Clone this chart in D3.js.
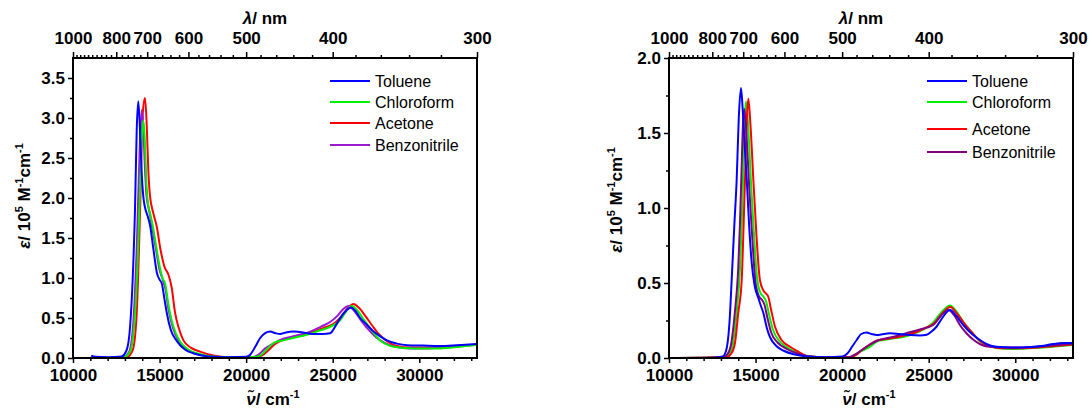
<!DOCTYPE html>
<html>
<head>
<meta charset="utf-8">
<script src="https://cdn.jsdelivr.net/npm/d3@7"></script>
<style>
body { margin: 0; background: #fff; }
svg text { font-family: "Liberation Sans", Arial, sans-serif; }
.tick text { font-weight: bold; font-size: 17px; fill: #000; }
.tick line { stroke: #000; stroke-width: 1.5; }
</style>
</head>
<body>
<svg width="1092" height="414"></svg>
<script>
// ---- data (wavenumber cm-1, epsilon / 1e5 M-1 cm-1) ----
var solvents = ["Toluene", "Chloroform", "Acetone", "Benzonitrile"];

var leftToluene = [[11050,0.03],[11300,0.015],[12000,0.01],[12800,0.02],[13100,0.1],[13300,0.4],[13450,1.0],[13580,1.85],[13680,2.85],[13770,3.21],[13870,2.85],[13960,2.35],[14060,2.02],[14150,1.89],[14300,1.78],[14450,1.66],[14650,1.35],[14850,1.06],[15000,0.98],[15130,0.93],[15280,0.74],[15420,0.56],[15650,0.35],[16000,0.21],[16500,0.1],[16940,0.06],[17800,0.02],[19000,0.01],[20000,0.015],[20230,0.04],[20550,0.15],[20810,0.25],[21100,0.31],[21390,0.33],[21700,0.31],[21960,0.30],[22300,0.32],[22730,0.33],[23300,0.32],[23800,0.30],[24400,0.30],[24850,0.31],[25240,0.43],[25600,0.55],[26070,0.63],[26300,0.59],[26590,0.50],[27000,0.41],[27360,0.33],[27750,0.27],[28130,0.22],[28700,0.18],[29290,0.16],[30200,0.155],[31200,0.15],[32200,0.16],[33340,0.175]];
var leftChloroform = [[12000,0.0],[12900,0.01],[13300,0.08],[13550,0.45],[13750,1.3],[13900,2.3],[14000,2.85],[14063,2.97],[14150,2.7],[14250,2.15],[14350,1.9],[14450,1.81],[14600,1.66],[14800,1.4],[15000,1.15],[15180,0.99],[15320,0.93],[15500,0.68],[15700,0.47],[15900,0.33],[16200,0.2],[16700,0.1],[17300,0.05],[18000,0.02],[19000,0.01],[20300,0.01],[20810,0.03],[21200,0.11],[21600,0.19],[22150,0.22],[22700,0.25],[23500,0.29],[24200,0.34],[24850,0.39],[25430,0.47],[25800,0.59],[26110,0.65],[26400,0.6],[26800,0.48],[27200,0.36],[27740,0.22],[28100,0.17],[28510,0.14],[29670,0.12],[30500,0.12],[31210,0.12],[32300,0.14],[33340,0.165]];
var leftAcetone = [[12000,0.0],[13100,0.01],[13450,0.1],[13680,0.56],[13870,1.81],[14030,3.06],[14160,3.25],[14260,2.9],[14350,2.35],[14450,2.02],[14640,1.81],[14840,1.64],[15050,1.36],[15300,1.13],[15500,1.05],[15700,0.88],[15900,0.56],[16100,0.38],[16380,0.22],[16800,0.13],[17340,0.08],[18110,0.03],[19000,0.01],[20500,0.01],[20900,0.03],[21300,0.1],[21700,0.18],[22200,0.23],[22700,0.26],[23300,0.29],[23900,0.33],[24500,0.38],[25000,0.42],[25500,0.52],[25900,0.63],[26200,0.675],[26500,0.63],[26900,0.52],[27300,0.40],[27700,0.29],[28200,0.2],[28700,0.15],[29500,0.13],[30500,0.13],[31500,0.14],[32500,0.16],[33340,0.17]];
var leftBenzonitrile = [[12000,0.0],[12900,0.01],[13250,0.08],[13500,0.5],[13700,1.5],[13850,2.6],[13970,3.1],[14060,2.9],[14150,2.4],[14250,2.02],[14400,1.84],[14600,1.6],[14800,1.35],[15000,1.1],[15200,0.97],[15350,0.85],[15500,0.63],[15700,0.43],[15900,0.3],[16200,0.18],[16700,0.09],[17300,0.04],[18000,0.02],[19000,0.01],[20300,0.01],[20700,0.04],[21100,0.12],[21580,0.18],[22000,0.23],[22500,0.26],[23100,0.29],[23700,0.33],[24300,0.39],[24850,0.45],[25240,0.52],[25600,0.61],[25910,0.65],[26200,0.6],[26600,0.48],[27000,0.37],[27500,0.26],[28000,0.19],[28600,0.14],[29500,0.12],[30500,0.12],[31500,0.13],[32500,0.15],[33340,0.165]];

var rightToluene = [[10000,0.0],[12500,0.0],[13100,0.01],[13300,0.05],[13500,0.25],[13620,0.52],[13780,0.9],[13910,1.19],[14030,1.6],[14157,1.80],[14260,1.65],[14380,1.4],[14490,1.19],[14630,0.88],[14780,0.63],[14950,0.48],[15160,0.40],[15300,0.35],[15450,0.30],[15650,0.2],[15830,0.14],[16200,0.08],[16600,0.05],[17200,0.025],[18000,0.01],[19000,0.005],[20000,0.01],[20300,0.03],[20600,0.08],[20840,0.12],[21100,0.16],[21410,0.17],[21700,0.16],[21990,0.153],[22400,0.16],[22760,0.165],[23300,0.16],[23920,0.153],[24500,0.15],[24880,0.155],[25200,0.18],[25460,0.21],[25800,0.27],[26230,0.32],[26600,0.28],[27000,0.22],[27500,0.16],[27960,0.12],[28400,0.09],[28920,0.075],[29800,0.07],[30650,0.072],[31500,0.08],[32190,0.093],[32700,0.1],[33340,0.1]];
var rightChloroform = [[10000,0.0],[13200,0.005],[13500,0.03],[13700,0.1],[13900,0.3],[14100,0.6],[14200,0.9],[14290,1.25],[14370,1.58],[14446,1.71],[14540,1.6],[14640,1.4],[14740,1.16],[14920,0.8],[15100,0.52],[15300,0.43],[15450,0.41],[15600,0.38],[15800,0.28],[16000,0.19],[16400,0.11],[16900,0.065],[17500,0.03],[18200,0.01],[19000,0.005],[20400,0.005],[20650,0.015],[21000,0.04],[21610,0.075],[22000,0.11],[22380,0.12],[22900,0.13],[23530,0.14],[24100,0.16],[24700,0.19],[25200,0.23],[25700,0.3],[26230,0.35],[26600,0.31],[27000,0.24],[27500,0.17],[27960,0.11],[28500,0.08],[29000,0.065],[29880,0.06],[30800,0.065],[31800,0.072],[32600,0.08],[33340,0.087]];
var rightAcetone = [[10000,0.0],[13300,0.005],[13600,0.03],[13810,0.1],[14000,0.3],[14200,0.52],[14300,0.85],[14390,1.19],[14480,1.55],[14580,1.73],[14680,1.6],[14780,1.4],[14870,1.19],[15050,0.82],[15250,0.52],[15450,0.45],[15600,0.43],[15730,0.41],[15900,0.32],[16120,0.21],[16500,0.12],[16990,0.075],[17500,0.04],[17950,0.013],[19000,0.005],[20500,0.005],[20800,0.02],[21100,0.05],[21600,0.09],[22000,0.115],[22400,0.125],[23000,0.135],[23600,0.15],[24200,0.17],[24800,0.2],[25300,0.23],[25800,0.3],[26250,0.34],[26600,0.3],[27000,0.24],[27500,0.17],[28000,0.11],[28500,0.08],[29300,0.065],[30300,0.065],[31300,0.07],[32300,0.08],[33340,0.09]];
var rightBenzonitrile = [[10000,0.0],[13100,0.005],[13400,0.03],[13600,0.1],[13800,0.3],[14000,0.6],[14100,0.9],[14190,1.25],[14270,1.55],[14350,1.66],[14440,1.55],[14540,1.35],[14640,1.12],[14820,0.78],[15000,0.5],[15200,0.41],[15350,0.39],[15500,0.36],[15700,0.26],[15900,0.17],[16300,0.1],[16800,0.06],[17400,0.03],[18100,0.01],[19000,0.005],[20400,0.005],[20700,0.02],[21100,0.05],[21600,0.09],[22000,0.115],[22500,0.13],[23100,0.145],[23700,0.165],[24490,0.19],[25260,0.22],[25700,0.28],[26130,0.32],[26500,0.28],[26800,0.22],[27180,0.165],[27600,0.12],[28000,0.09],[28500,0.075],[29300,0.07],[30300,0.07],[31300,0.075],[32300,0.085],[33340,0.095]];

// ---- tick labels ----
var wnMajor = [10000, 15000, 20000, 25000, 30000];
var wnMinor = [11000,12000,13000,14000,16000,17000,18000,19000,21000,22000,23000,24000,26000,27000,28000,29000,31000,32000,33000];
var nmMajor = [1000, 800, 700, 600, 500, 400, 300];
var nmMinor = [980,960,940,920,900,880,860,840,820,780,760,740,720,680,660,640,620,580,560,540,520,480,460,440,420,380,360,340,320];
var leftYMajor = [0, 0.5, 1.0, 1.5, 2.0, 2.5, 3.0, 3.5];
var leftYMinor = [0.25, 0.75, 1.25, 1.75, 2.25, 2.75, 3.25];
var rightYMajor = [0, 0.5, 1.0, 1.5, 2.0];
var rightYMinor = [0.25, 0.75, 1.25, 1.75];

var svg = d3.select("svg");
var top0 = 58, bottom0 = 358, plotW = 404;

// text with italic / superscript parts
function rich(t, parts) {
  var shift = 0;
  parts.forEach(function(p) {
    var s = t.append("tspan").text(p[0]);
    var dy = 0;
    if (p[1] === "sup") { dy = -7 - shift; shift = -7; s.style("font-size", "11px"); }
    else { dy = -shift; shift = 0; }
    if (dy) s.attr("dy", dy);
    if (p[1] === "i") s.style("font-style", "italic");
  });
}

function drawPanel(p) {
  var x = d3.scaleLinear().domain([10000, 1e7 / 300]).range([p.left, p.left + plotW]);
  var y = d3.scaleLinear().domain([0, p.yMax]).range([bottom0, top0]);
  var g = svg.append("g");

  g.append("clipPath").attr("id", p.id)
    .append("rect").attr("x", p.left).attr("y", top0).attr("width", plotW).attr("height", bottom0 - top0);

  var line = d3.line()
      .x(function(d) { return x(d[0]); })
      .y(function(d) { return y(d[1]); })
      .curve(d3.curveMonotoneX);

  g.append("g").attr("clip-path", "url(#" + p.id + ")")
    .selectAll("path")
    .data(p.order)
    .enter().append("path")
      .attr("d", function(i) { return line(p.series[i]); })
      .attr("fill", "none")
      .attr("stroke", function(i) { return p.colors[i]; })
      .attr("stroke-width", 2)
      .attr("stroke-linejoin", "round");

  // axes
  g.append("g").attr("transform", "translate(0," + bottom0 + ")")
    .call(d3.axisBottom(x).tickValues(wnMajor).tickSize(5).tickPadding(6).tickFormat(d3.format("d")));
  g.append("g").attr("transform", "translate(0," + bottom0 + ")")
    .call(d3.axisBottom(x).tickValues(wnMinor).tickSize(3).tickFormat(""));

  g.append("g").attr("transform", "translate(" + p.left + ",0)")
    .call(d3.axisLeft(y).tickValues(p.yMajor).tickSize(5).tickPadding(3).tickFormat(d3.format(".1f")));
  g.append("g").attr("transform", "translate(" + p.left + ",0)")
    .call(d3.axisLeft(y).tickValues(p.yMinor).tickSize(3).tickFormat(""));

  g.append("g").attr("transform", "translate(0," + top0 + ")")
    .call(d3.axisTop(x).tickValues(nmMajor.map(function(n) { return 1e7 / n; }))
      .tickSize(6).tickPadding(8)
      .tickFormat(function(v) { return Math.round(1e7 / v); }));
  g.append("g").attr("transform", "translate(0," + top0 + ")")
    .call(d3.axisTop(x).tickValues(nmMinor.map(function(n) { return 1e7 / n; })).tickSize(3).tickFormat(""));

  g.selectAll(".domain").remove();

  g.append("rect")
    .attr("x", p.left).attr("y", top0)
    .attr("width", plotW).attr("height", bottom0 - top0)
    .attr("fill", "none").attr("stroke", "#000").attr("stroke-width", 2);

  // titles
  var tt = g.append("text").attr("x", p.left + 192).attr("y", 24)
    .attr("text-anchor", "middle").style("font-weight", "bold").style("font-size", "17px");
  rich(tt, [["\u03bb", "i"], ["/ nm", ""]]);

  var bt = g.append("text").attr("x", p.left + 200).attr("y", 405)
    .attr("text-anchor", "middle").style("font-weight", "bold").style("font-size", "17px");
  rich(bt, [["\u03bd\u0303", "i"], ["/ cm", ""], ["-1", "sup"]]);

  var yt = g.append("text")
    .attr("transform", "translate(" + p.ylabX + "," + p.ylabY + ") rotate(-90)")
    .attr("text-anchor", "middle").style("font-weight", "bold").style("font-size", "17px");
  rich(yt, [["\u03b5", "i"], ["/ 10", ""], ["5", "sup"], [" M", ""], ["-1", "sup"], ["cm", ""], ["-1", "sup"]]);

  // legend
  var lg = g.selectAll(".legend")
    .data(solvents)
    .enter().append("g")
      .attr("class", "legend")
      .attr("transform", function(d, i) { return "translate(" + p.legX + "," + p.legY[i] + ")"; });
  lg.append("line").attr("x1", 0).attr("x2", 40)
    .attr("stroke", function(d, i) { return p.colors[i]; }).attr("stroke-width", 2);
  lg.append("text").attr("x", 45).attr("dy", "0.35em")
    .style("font-size", "16px")
    .text(function(d) { return d; });
}

drawPanel({
  id: "clipL", left: 73, yMax: 3.75,
  yMajor: leftYMajor, yMinor: leftYMinor,
  series: [leftToluene, leftChloroform, leftAcetone, leftBenzonitrile],
  colors: ["#0000ff", "#00ee00", "#ff0000", "#9a1ad0"],
  order: [2, 3, 1, 0],
  ylabX: 30, ylabY: 196,
  legX: 330, legY: [81, 102, 123, 145]
});

drawPanel({
  id: "clipR", left: 669, yMax: 2.0,
  yMajor: rightYMajor, yMinor: rightYMinor,
  series: [rightToluene, rightChloroform, rightAcetone, rightBenzonitrile],
  colors: ["#0000ff", "#00ee00", "#ff0000", "#800080"],
  order: [1, 2, 3, 0],
  ylabX: 622, ylabY: 200,
  legX: 927, legY: [81, 102, 129, 152]
});
</script>
</body>
</html>
